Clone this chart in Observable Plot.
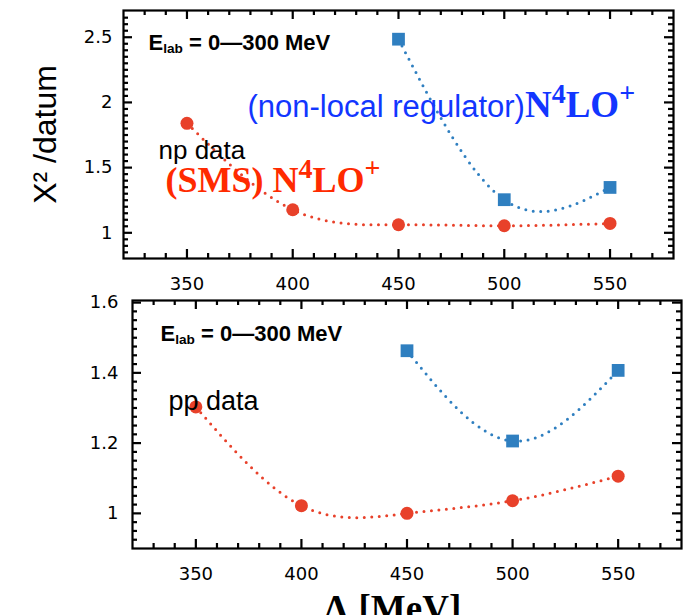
<!DOCTYPE html>
<html><head><meta charset="utf-8">
<script src="https://cdn.jsdelivr.net/npm/d3@7"></script>
<script src="https://cdn.jsdelivr.net/npm/@observablehq/plot@0.6"></script>
<style>
html,body{margin:0;padding:0;background:#fff;overflow:hidden}
#wrap{position:relative;width:684px;height:615px;overflow:hidden;background:#fff}
#top{position:absolute;left:0;top:0}
#bot{position:absolute;left:0;top:290px}
</style></head>
<body><div id="wrap"><div id="top"></div><div id="bot"></div></div>
<script>
// ---- data ----
const lambdaSMS = [350, 400, 450, 500, 550];
const lambdaNL = [450, 500, 550];
const npSMS = [1.84, 1.177, 1.062, 1.054, 1.072];
const npNL = [2.485, 1.254, 1.348];
const ppSMS = [1.303, 1.022, 1.0, 1.036, 1.106];
const ppNL = [1.463, 1.206, 1.407];
const xTicks = [350, 400, 450, 500, 550];
const npYTicks = [1, 1.5, 2, 2.5];
const ppYTicks = [1, 1.2, 1.4, 1.6];

const RED = "#e8412a", BLUE = "#2f7fc0", TXTRED = "#ff2a00", TXTBLUE = "#1236ff";
const SANS = "Liberation Sans, Arial, sans-serif";
const SERIF = "Liberation Serif, Times New Roman, serif";

const rows = (xs, ys) => xs.map((x, i) => ({lambda: x, chi2: ys[i]}));

// inward ticks on all four frame edges
function frameTicks(fw, fh, xMaj, xMin, yMaj, yMin) {
  const st = {stroke: "black", strokeWidth: 2.2};
  const marks = [];
  for (const [vals, L] of [[xMaj, 9], [xMin, 5]]) {
    marks.push(Plot.tickX(vals, {x: d => d, insetTop: fh - L, ...st}));
    marks.push(Plot.tickX(vals, {x: d => d, insetBottom: fh - L, ...st}));
  }
  for (const [vals, L] of [[yMaj, 9], [yMin, 5]]) {
    marks.push(Plot.tickY(vals, {y: d => d, insetRight: fw - L, ...st}));
    marks.push(Plot.tickY(vals, {y: d => d, insetLeft: fw - L, ...st}));
  }
  return marks;
}

function series(sms, nl) {
  const dotted = {x: "lambda", y: "chi2", curve: "natural", strokeWidth: 3, strokeDasharray: "0 7.5", strokeLinecap: "round"};
  return [
    Plot.line(sms, {...dotted, stroke: RED}),
    Plot.line(nl, {...dotted, stroke: BLUE}),
    Plot.dot(sms, {x: "lambda", y: "chi2", r: 6.5, fill: RED, stroke: "none"}),
    Plot.dot(nl, {x: "lambda", y: "chi2", symbol: "square", r: 7.2, fill: BLUE, stroke: "none"})
  ];
}

function label(key, opts) {
  return Plot.text([key], {text: d => d, frameAnchor: "top-left", textAnchor: "start", lineAnchor: "bottom", ...opts});
}

function rich(svg, key, parts) {
  d3.select(svg).selectAll("text").filter(function() { return this.textContent === key; }).each(function() {
    const t = d3.select(this);
    t.text(null);
    for (const p of parts) {
      const s = t.append("tspan").text(p.t);
      if (p.family) s.attr("font-family", p.family);
      if (p.weight) s.attr("font-weight", p.weight);
      if (p.size) s.attr("font-size", p.size);
      if (p.shift) s.attr("baseline-shift", p.shift);
      if (p.fill) s.attr("fill", p.fill);
    }
  });
}

const elabParts = [
  {t: "E"}, {t: "lab", size: "62%", shift: "-0.22em"}, {t: " = 0\u2014300 MeV"}
];

// ---- top panel: np data ----
{
  const W = 684, H = 290, mL = 123, mR = 11, mT = 10, mB = 32;
  const fw = W - mL - mR, fh = H - mT - mB;
  const svg = Plot.plot({
    width: W, height: H, marginLeft: mL, marginRight: mR, marginTop: mT, marginBottom: mB,
    x: {domain: [320, 580]},
    y: {domain: [0.803, 2.705]},
    style: {fontFamily: "DejaVu Sans, sans-serif", fontSize: "18px", color: "black", background: "transparent", overflow: "visible"},
    marks: [
      Plot.axisX({ticks: xTicks, tickSize: 0, tickPadding: 19, fontSize: 18, label: null}),
      Plot.axisY({ticks: npYTicks, tickSize: 0, tickPadding: 11, fontSize: 18, tickFormat: d3.format("~g"), label: null}),
      ...series(rows(lambdaSMS, npSMS), rows(lambdaNL, npNL)),
      Plot.frame({stroke: "black", strokeWidth: 2.2}),
      ...frameTicks(fw, fh, xTicks, d3.range(330, 580, 10).filter(v => v % 50), npYTicks, d3.range(0.85, 2.7, 0.05).filter(v => Math.abs(v * 2 - Math.round(v * 2)) > 1e-6)),
      label("Elab = 0\u2014300 MeV", {dx: 25, dy: 39, fontSize: 22, fontWeight: "bold", fontFamily: SANS, fill: "black"}),
      label("(non-local regulator)N4LO+", {dx: 124, dy: 106, fontSize: 31, fontFamily: SANS, fill: TXTBLUE}),
      label("np data", {dx: 35, dy: 148, fontSize: 26, fontFamily: SANS, fill: "black"}),
      label("(SMS) N4LO+", {dx: 42, dy: 181, fontSize: 36, fontFamily: SERIF, fontWeight: "bold", fill: TXTRED}),
      Plot.text(["\u03A7\u00B2 /datum"], {text: d => d, frameAnchor: "left", dx: -78, rotate: -90, textAnchor: "middle", lineAnchor: "middle", fontSize: 32, fontFamily: SANS, fill: "black"})
    ]
  });
  document.getElementById("top").appendChild(svg);
  rich(svg, "Elab = 0\u2014300 MeV", elabParts);
  rich(svg, "(non-local regulator)N4LO+", [
    {t: "(non-local regulator)"},
    {t: "N", family: SERIF, weight: "bold", size: 37},
    {t: "4", family: SERIF, weight: "bold", size: 28, shift: "0.5em"},
    {t: "LO", family: SERIF, weight: "bold", size: 37},
    {t: "+", family: SERIF, weight: "bold", size: 28, shift: "0.55em"}
  ]);
  rich(svg, "(SMS) N4LO+", [
    {t: "(SMS) N"},
    {t: "4", size: 28, shift: "0.5em"},
    {t: "LO"},
    {t: "+", size: 28, shift: "0.55em"}
  ]);
}

// ---- bottom panel: pp data ----
{
  const W = 684, H = 325, mL = 132, mR = 3, mT = 10, mB = 67;
  const fw = W - mL - mR, fh = H - mT - mB;
  const svg = Plot.plot({
    width: W, height: H, marginLeft: mL, marginRight: mR, marginTop: mT, marginBottom: mB,
    x: {domain: [320, 580]},
    y: {domain: [0.9, 1.606]},
    style: {fontFamily: "DejaVu Sans, sans-serif", fontSize: "18px", color: "black", background: "transparent", overflow: "visible"},
    marks: [
      Plot.axisX({ticks: xTicks, tickSize: 0, tickPadding: 19, fontSize: 18, label: null}),
      Plot.axisY({ticks: ppYTicks, tickSize: 0, tickPadding: 14, fontSize: 18, tickFormat: d3.format("~g"), label: null}),
      ...series(rows(lambdaSMS, ppSMS), rows(lambdaNL, ppNL)),
      Plot.frame({stroke: "black", strokeWidth: 2.2}),
      ...frameTicks(fw, fh, xTicks, d3.range(330, 580, 10).filter(v => v % 50), ppYTicks, d3.range(0.925, 1.6, 0.025).filter(v => Math.abs(v * 5 - Math.round(v * 5)) > 1e-6)),
      label("Elab = 0\u2014300 MeV", {dx: 28, dy: 40, fontSize: 22, fontWeight: "bold", fontFamily: SANS, fill: "black"}),
      label("pp data", {dx: 36, dy: 109, fontSize: 27, fontFamily: SANS, fill: "black"}),
      Plot.text(["\u039B [MeV]"], {text: d => d, frameAnchor: "bottom", dx: -15, dy: 72, textAnchor: "middle", lineAnchor: "bottom", fontSize: 37, fontWeight: "bold", fontFamily: SERIF, fill: "black"})
    ]
  });
  document.getElementById("bot").appendChild(svg);
  rich(svg, "Elab = 0\u2014300 MeV", elabParts);
}
</script>
</body></html>
